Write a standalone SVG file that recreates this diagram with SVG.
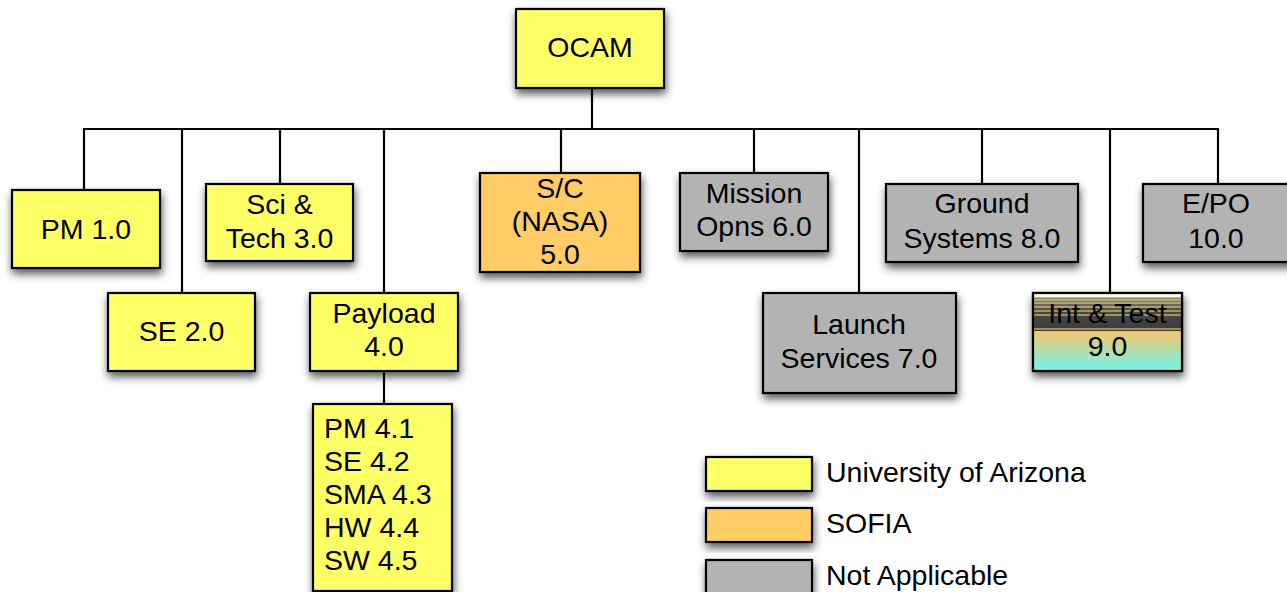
<svg xmlns="http://www.w3.org/2000/svg" width="1287" height="592" viewBox="0 0 1287 592">
<style>
.box{stroke:#000;stroke-width:2.2;filter:url(#sh)}
.y{fill:#ffff66}
.o{fill:#ffcc66}
.g{fill:#b3b3b3}
.t{font-family:"Liberation Sans",Arial,sans-serif;font-size:28.5px;fill:#000;text-anchor:middle}
.l{font-family:"Liberation Sans",Arial,sans-serif;font-size:28.5px;fill:#000}
.c{stroke:#000;stroke-width:2.2;fill:none}
</style>
<defs>
<filter id="sh" x="-20%" y="-20%" width="140%" height="150%">
<feDropShadow dx="1" dy="5" stdDeviation="4" flood-color="#000" flood-opacity="0.65"/>
</filter>
<linearGradient id="itTop" x1="0" y1="0" x2="0" y2="1">
<stop offset="0" stop-color="#9a9a9a"/>
<stop offset="0.45" stop-color="#4a4a4a"/>
<stop offset="1" stop-color="#3a3a3a"/>
</linearGradient>
<linearGradient id="itBot" x1="0" y1="0" x2="0" y2="1">
<stop offset="0" stop-color="#f5c66a"/>
<stop offset="1" stop-color="#72f5ea"/>
</linearGradient>
</defs>
<rect width="1287" height="592" fill="#fff"/>
<g id="connectors">
<line class="c" x1="592" y1="88" x2="592" y2="129"/>
<line class="c" x1="83" y1="129" x2="1219" y2="129"/>
<line class="c" x1="84" y1="129" x2="84" y2="190"/>
<line class="c" x1="182" y1="129" x2="182" y2="293"/>
<line class="c" x1="280" y1="129" x2="280" y2="184"/>
<line class="c" x1="384" y1="129" x2="384" y2="293"/>
<line class="c" x1="561" y1="129" x2="561" y2="173"/>
<line class="c" x1="754" y1="129" x2="754" y2="173"/>
<line class="c" x1="859" y1="129" x2="859" y2="293"/>
<line class="c" x1="982" y1="129" x2="982" y2="184"/>
<line class="c" x1="1110" y1="129" x2="1110" y2="293"/>
<line class="c" x1="1218" y1="129" x2="1218" y2="184"/>
<line class="c" x1="384" y1="371" x2="384" y2="404"/>
</g>
<g id="ocam">
<rect class="box y" x="516" y="9" width="148" height="79"/>
<text class="t" x="590" y="57">OCAM</text>
</g>
<g id="pm1">
<rect class="box y" x="12" y="190" width="148" height="78"/>
<text class="t" x="86" y="239">PM 1.0</text>
</g>
<g id="se2">
<rect class="box y" x="108" y="293" width="147" height="78"/>
<text class="t" x="181.5" y="341">SE 2.0</text>
</g>
<g id="sci3">
<rect class="box y" x="206" y="184" width="147" height="77"/>
<text class="t" x="279.5" y="214">Sci &amp;</text>
<text class="t" x="279.5" y="248">Tech 3.0</text>
</g>
<g id="payload4">
<rect class="box y" x="310" y="293" width="148" height="78"/>
<text class="t" x="384" y="323">Payload</text>
<text class="t" x="384" y="356">4.0</text>
</g>
<g id="payloadsub">
<rect class="box y" x="313" y="404" width="139" height="187"/>
<text class="l" x="324" y="438">PM 4.1</text>
<text class="l" x="324" y="471">SE 4.2</text>
<text class="l" x="324" y="504">SMA 4.3</text>
<text class="l" x="324" y="537">HW 4.4</text>
<text class="l" x="324" y="570">SW 4.5</text>
</g>
<g id="sc5">
<rect class="box o" x="480" y="173" width="160" height="99"/>
<text class="t" x="560" y="198">S/C</text>
<text class="t" x="560" y="231">(NASA)</text>
<text class="t" x="560" y="264">5.0</text>
</g>
<g id="mission6">
<rect class="box g" x="680" y="173" width="148" height="78"/>
<text class="t" x="754" y="203">Mission</text>
<text class="t" x="754" y="236">Opns 6.0</text>
</g>
<g id="launch7">
<rect class="box g" x="763" y="293" width="193" height="100"/>
<text class="t" x="859" y="334">Launch</text>
<text class="t" x="859" y="368">Services 7.0</text>
</g>
<g id="ground8">
<rect class="box g" x="886" y="184" width="192" height="78"/>
<text class="t" x="982" y="213">Ground</text>
<text class="t" x="982" y="248">Systems 8.0</text>
</g>
<g id="inttest9">
<rect class="box" x="1033" y="293" width="149" height="78" fill="#fff"/>
<rect x="1034" y="294" width="147" height="37" fill="url(#itTop)"/>
<rect x="1034" y="331" width="147" height="39" fill="url(#itBot)"/>
<g stroke="#ffe066" stroke-width="1">
<line x1="1034" y1="297" x2="1181" y2="297"/>
<line x1="1034" y1="300" x2="1181" y2="300"/>
<line x1="1034" y1="303" x2="1181" y2="303"/>
<line x1="1034" y1="307" x2="1181" y2="307"/>
<line x1="1034" y1="311" x2="1181" y2="311"/>
<line x1="1034" y1="315" x2="1181" y2="315"/>
<line x1="1034" y1="329" x2="1181" y2="329"/>
</g>
<rect x="1034" y="294" width="147" height="3" fill="#fffbe0"/>
<rect x="1033" y="293" width="149" height="78" fill="none" stroke="#000" stroke-width="2.2"/>
<text class="t" x="1107.5" y="323">Int &amp; Test</text>
<text class="t" x="1107.5" y="356">9.0</text>
</g>
<g id="epo10">
<rect class="box g" x="1143" y="184" width="150" height="78"/>
<text class="t" x="1216" y="213">E/PO</text>
<text class="t" x="1216" y="248">10.0</text>
</g>
<g id="legend">
<rect class="box y" x="706" y="457" width="106" height="34"/>
<text class="l" x="826" y="482">University of Arizona</text>
<rect class="box o" x="706" y="508" width="106" height="34"/>
<text class="l" x="826" y="533">SOFIA</text>
<rect class="box g" x="706" y="560" width="106" height="34"/>
<text class="l" x="826" y="585">Not Applicable</text>
</g>
</svg>
